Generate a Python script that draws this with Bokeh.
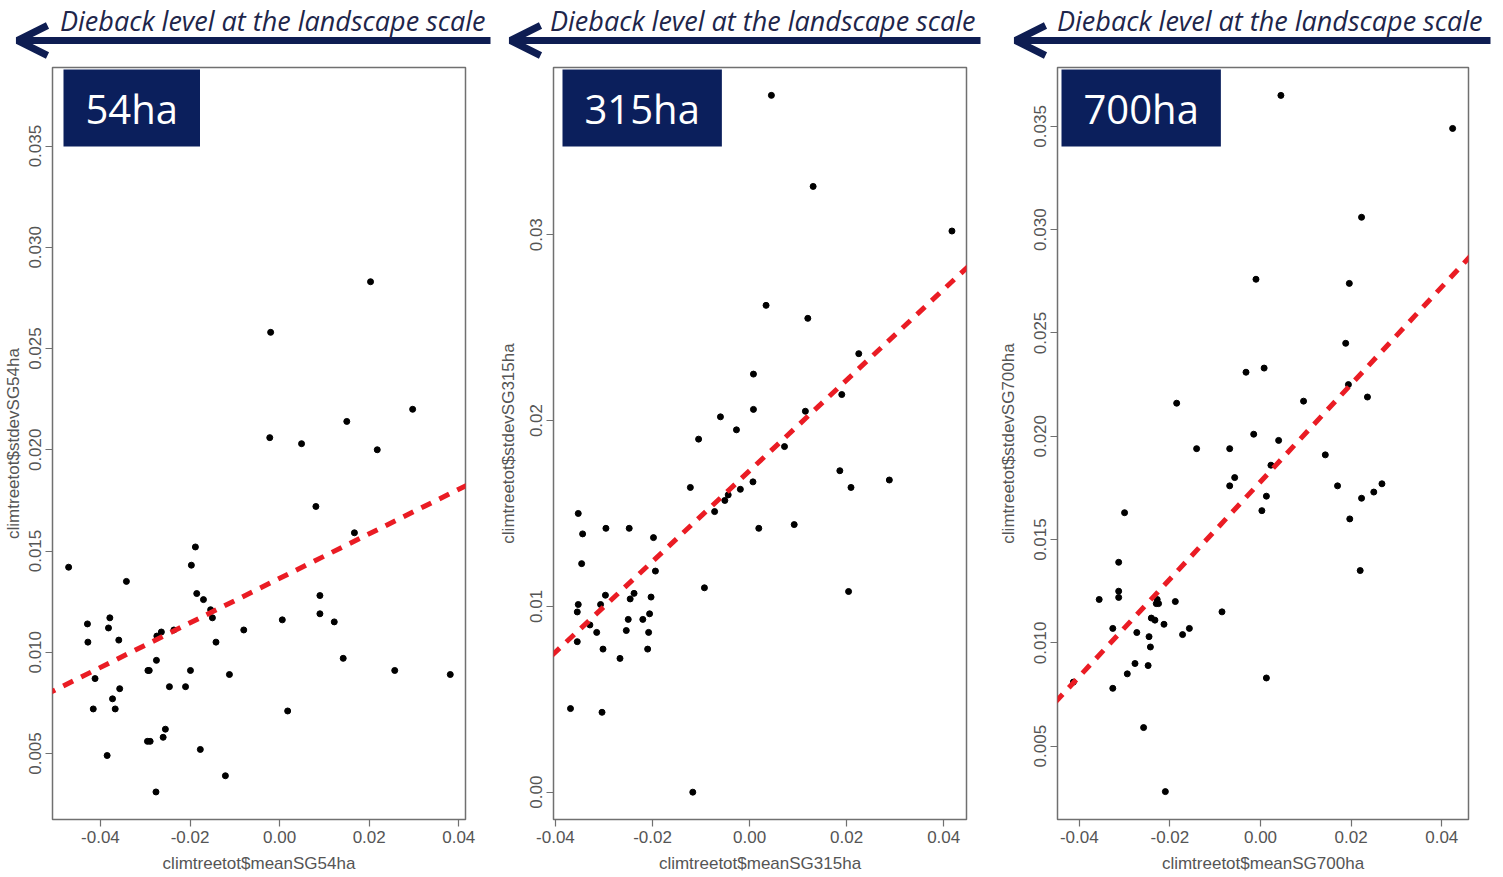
from bokeh.plotting import figure
from bokeh.models import Range1d, FixedTicker, NumeralTickFormatter, Label, Slope, Arrow, OpenHead
from bokeh.layouts import row, column
from bokeh.embed import file_html
from bokeh.resources import INLINE

# ---------------- data ----------------
header_text = "Dieback level at the landscape scale"

x54 = [0.0203, -0.0020, -0.0022, 0.0049, 0.0150, 0.0297, 0.0218, 0.0081, 0.0167, -0.0188,
       -0.0471, -0.0197, -0.0342, -0.0185, -0.0170, -0.0154, -0.0150, -0.0429, -0.0379, -0.0382,
       -0.0428, -0.0359, -0.0274, -0.0264, -0.0236, -0.0142, -0.0080, 0.0006, 0.0090, 0.0090,
       0.0122, 0.0142, 0.0257, 0.0381, -0.0275, -0.0294, -0.0291, -0.0199, -0.0412, -0.0357,
       -0.0246, -0.0210, -0.0112, -0.0373, -0.0416, -0.0367, 0.0018, -0.0255, -0.0260, -0.0295,
       -0.0289, -0.0177, -0.0385, -0.0121, -0.0276]
y54 = [0.0283, 0.0258, 0.0206, 0.0203, 0.0214, 0.0220, 0.0200, 0.0172, 0.0159, 0.0152,
       0.0142, 0.0143, 0.0135, 0.0129, 0.0126, 0.0121, 0.0117, 0.0114, 0.0117, 0.0112,
       0.0105, 0.0106, 0.0108, 0.0110, 0.0111, 0.0105, 0.0111, 0.0116, 0.0128, 0.0119,
       0.0115, 0.0097, 0.0091, 0.0089, 0.0096, 0.0091, 0.0091, 0.0091, 0.0087, 0.0082,
       0.0083, 0.0083, 0.0089, 0.0077, 0.0072, 0.0072, 0.0071, 0.0062, 0.0058, 0.0056,
       0.0056, 0.0052, 0.0049, 0.0039, 0.0031]

x315 = [0.0045, 0.0131, 0.0417, 0.0034, 0.0120, 0.0225, 0.0008, 0.0190, 0.0008, 0.0115,
        -0.0060, -0.0027, -0.0105, 0.0072, -0.0122, 0.0007, -0.0019, -0.0051, -0.0072, -0.0044,
        0.0186, 0.0209, 0.0288, -0.0353, -0.0344, -0.0296, -0.0248, -0.0198, 0.0019, 0.0092,
        -0.0346, -0.0194, -0.0093, 0.0204, -0.0297, -0.0238, -0.0246, -0.0203, -0.0353, -0.0355,
        -0.0307, -0.0206, -0.0329, -0.0315, -0.0250, -0.0220, -0.0254, -0.0208, -0.0355, -0.0302,
        -0.0210, -0.0267, -0.0369, -0.0304, -0.0117]
y315 = [0.0375, 0.0326, 0.0302, 0.0262, 0.0255, 0.0236, 0.0225, 0.0214, 0.0206, 0.0205,
        0.0202, 0.0195, 0.0190, 0.0186, 0.0164, 0.0167, 0.0163, 0.0157, 0.0151, 0.0160,
        0.0173, 0.0164, 0.0168, 0.0150, 0.0139, 0.0142, 0.0142, 0.0137, 0.0142, 0.0144,
        0.0123, 0.0119, 0.0110, 0.0108, 0.0106, 0.0107, 0.0104, 0.0105, 0.0101, 0.0097,
        0.0101, 0.0096, 0.0090, 0.0086, 0.0093, 0.0093, 0.0087, 0.0086, 0.0081, 0.0077,
        0.0077, 0.0072, 0.0045, 0.0043, 0.0000]

x700 = [0.0045, 0.0424, 0.0223, -0.0010, 0.0196, 0.0188, -0.0032, 0.0008, -0.0185, 0.0095,
        0.0194, 0.0236, -0.0015, 0.0040, -0.0141, -0.0068, 0.0143, 0.0023, -0.0057, -0.0068,
        0.0013, 0.0003, 0.0170, 0.0223, 0.0250, 0.0268, 0.0197, 0.0220, -0.0300, -0.0313,
        -0.0313, -0.0313, -0.0356, -0.0228, -0.0225, -0.0230, -0.0188, -0.0085, -0.0241, -0.0233,
        -0.0213, -0.0326, -0.0273, -0.0246, -0.0157, -0.0172, -0.0243, -0.0277, -0.0248, -0.0294,
        -0.0326, 0.0013, -0.0413, -0.0258, -0.0210]
y700 = [0.0365, 0.0349, 0.0306, 0.0276, 0.0274, 0.0245, 0.0231, 0.0233, 0.0216, 0.0217,
        0.0225, 0.0219, 0.0201, 0.0198, 0.0194, 0.0194, 0.0191, 0.0186, 0.0180, 0.0176,
        0.0171, 0.0164, 0.0176, 0.0170, 0.0173, 0.0177, 0.0160, 0.0135, 0.0163, 0.0139,
        0.0125, 0.0122, 0.0121, 0.0121, 0.0119, 0.0119, 0.0120, 0.0115, 0.0112, 0.0111,
        0.0109, 0.0107, 0.0105, 0.0103, 0.0107, 0.0104, 0.0098, 0.0090, 0.0089, 0.0085,
        0.0078, 0.0083, 0.0081, 0.0059, 0.0028]

# regression lines (intercept, slope)
fit54 = (0.01365, 0.110)
fit315 = (0.0173, 0.244)
fit700 = (0.0178, 0.2357)

x_ticks = [-0.04, -0.02, 0.00, 0.02, 0.04]
y_ticks_54 = [0.005, 0.010, 0.015, 0.020, 0.025, 0.030, 0.035]
y_ticks_315 = [0.00, 0.01, 0.02, 0.03]
y_ticks_700 = [0.005, 0.010, 0.015, 0.020, 0.025, 0.030, 0.035]

tags = ["54ha", "315ha", "700ha"]
x_titles = ["climtreetot$meanSG54ha", "climtreetot$meanSG315ha", "climtreetot$meanSG700ha"]
y_titles = ["climtreetot$stdevSG54ha", "climtreetot$stdevSG315ha", "climtreetot$stdevSG700ha"]

# ---------------- style ----------------
NAVY_ARROW = "#0e1d52"
NAVY_BOX = "#0b1f5c"
HEAD_TEXT = "#20254a"
AXIS_GREY = "#555555"
FRAME_GREY = "#707070"
RED = "#ea1c24"
TICK_FONT = "Liberation Sans"

TOTAL_W = 1500
HEADER_H = 60
PLOT_H = 815
TOP = 7
BOTTOM = 56

# header strip: one arrow + caption above each panel (pixel coordinates of the strip)
header_arrows = [(17, 490), (510, 980), (1015, 1490)]
header_text_right = [485, 975, 1482]


def make_header():
    h = figure(width=TOTAL_W, height=HEADER_H, x_range=Range1d(0, TOTAL_W),
               y_range=Range1d(HEADER_H, 0), output_backend="svg", toolbar_location=None,
               x_axis_location=None, y_axis_location=None, min_border=0)
    h.grid.visible = False
    h.outline_line_color = None
    h.background_fill_color = None
    h.border_fill_color = None
    for (a0, a1), tr in zip(header_arrows, header_text_right):
        h.add_layout(Arrow(end=OpenHead(size=30, line_width=7, line_color=NAVY_ARROW),
                           x_start=a1, y_start=40, x_end=a0, y_end=40,
                           line_width=7, line_color=NAVY_ARROW))
        h.add_layout(Label(x=tr, y=20, text=header_text, text_align="right",
                           text_baseline="alphabetic", text_font="Open Sans",
                           text_font_style="italic", text_font_size="27px",
                           text_color=HEAD_TEXT))
    return h


def make_panel(width, bl, br, xr, yr, yticks, yfmt, xs, ys, fit, tag, xt, yt, box_dx,
               ylab_standoff):
    p = figure(width=width, height=PLOT_H, x_range=Range1d(*xr), y_range=Range1d(*yr),
               output_backend="svg", toolbar_location=None,
               min_border_left=bl, min_border_right=br, min_border_top=TOP, min_border_bottom=BOTTOM)
    p.grid.visible = False
    p.outline_line_color = FRAME_GREY
    p.outline_line_width = 1.5
    p.background_fill_color = "white"

    for ax in (p.xaxis[0], p.yaxis[0]):
        ax.axis_line_color = None
        ax.major_tick_line_color = FRAME_GREY
        ax.major_tick_line_width = 1.2
        ax.major_tick_out = 7
        ax.major_tick_in = 0
        ax.minor_tick_line_color = None
        ax.major_label_text_font = TICK_FONT
        ax.major_label_text_font_size = "17px"
        ax.major_label_text_color = AXIS_GREY
        ax.axis_label_text_font = TICK_FONT
        ax.axis_label_text_font_size = "17px"
        ax.axis_label_text_font_style = "normal"
        ax.axis_label_text_color = AXIS_GREY

    p.xaxis[0].ticker = FixedTicker(ticks=x_ticks)
    p.xaxis[0].formatter = NumeralTickFormatter(format="0.00")
    p.xaxis[0].major_label_standoff = 4
    p.xaxis[0].axis_label = xt
    p.xaxis[0].axis_label_standoff = 8

    p.yaxis[0].ticker = FixedTicker(ticks=yticks)
    p.yaxis[0].formatter = NumeralTickFormatter(format=yfmt)
    p.yaxis[0].major_label_orientation = "vertical"
    p.yaxis[0].major_label_standoff = 4
    p.yaxis[0].axis_label = yt
    p.yaxis[0].axis_label_standoff = ylab_standoff

    p.scatter(xs, ys, size=6, color="black")
    p.add_layout(Slope(gradient=fit[1], y_intercept=fit[0], line_color=RED, line_width=5,
                       line_dash="11 9"))

    # panel tag box (top-left corner of the frame)
    p.add_layout(Label(x=xr[0], y=yr[1], x_offset=box_dx, y_offset=-2, text=tag,
                       text_align="left", text_baseline="top", text_font="Open Sans",
                       text_font_size="40px", text_color="white",
                       background_fill_color=NAVY_BOX, padding=(22, 11)))
    return p


p1 = make_panel(495, 52, 30, (-0.0507, 0.0415), (0.00174, 0.03888), y_ticks_54, "0.000",
                x54, y54, fit54, tags[0], x_titles[0], y_titles[0], 11, 4)
p2 = make_panel(500, 58, 29, (-0.0404, 0.0447), (-0.00147, 0.0390), y_ticks_315, "0.00",
                x315, y315, fit315, tags[1], x_titles[1], y_titles[1], 9, 10)
p3 = make_panel(505, 62, 32, (-0.0448, 0.0459), (0.00145, 0.03785), y_ticks_700, "0.000",
                x700, y700, fit700, tags[2], x_titles[2], y_titles[2], 4, 14)

layout = column(make_header(), row(p1, p2, p3))

open("out.html", "w").write(file_html(layout, INLINE))
